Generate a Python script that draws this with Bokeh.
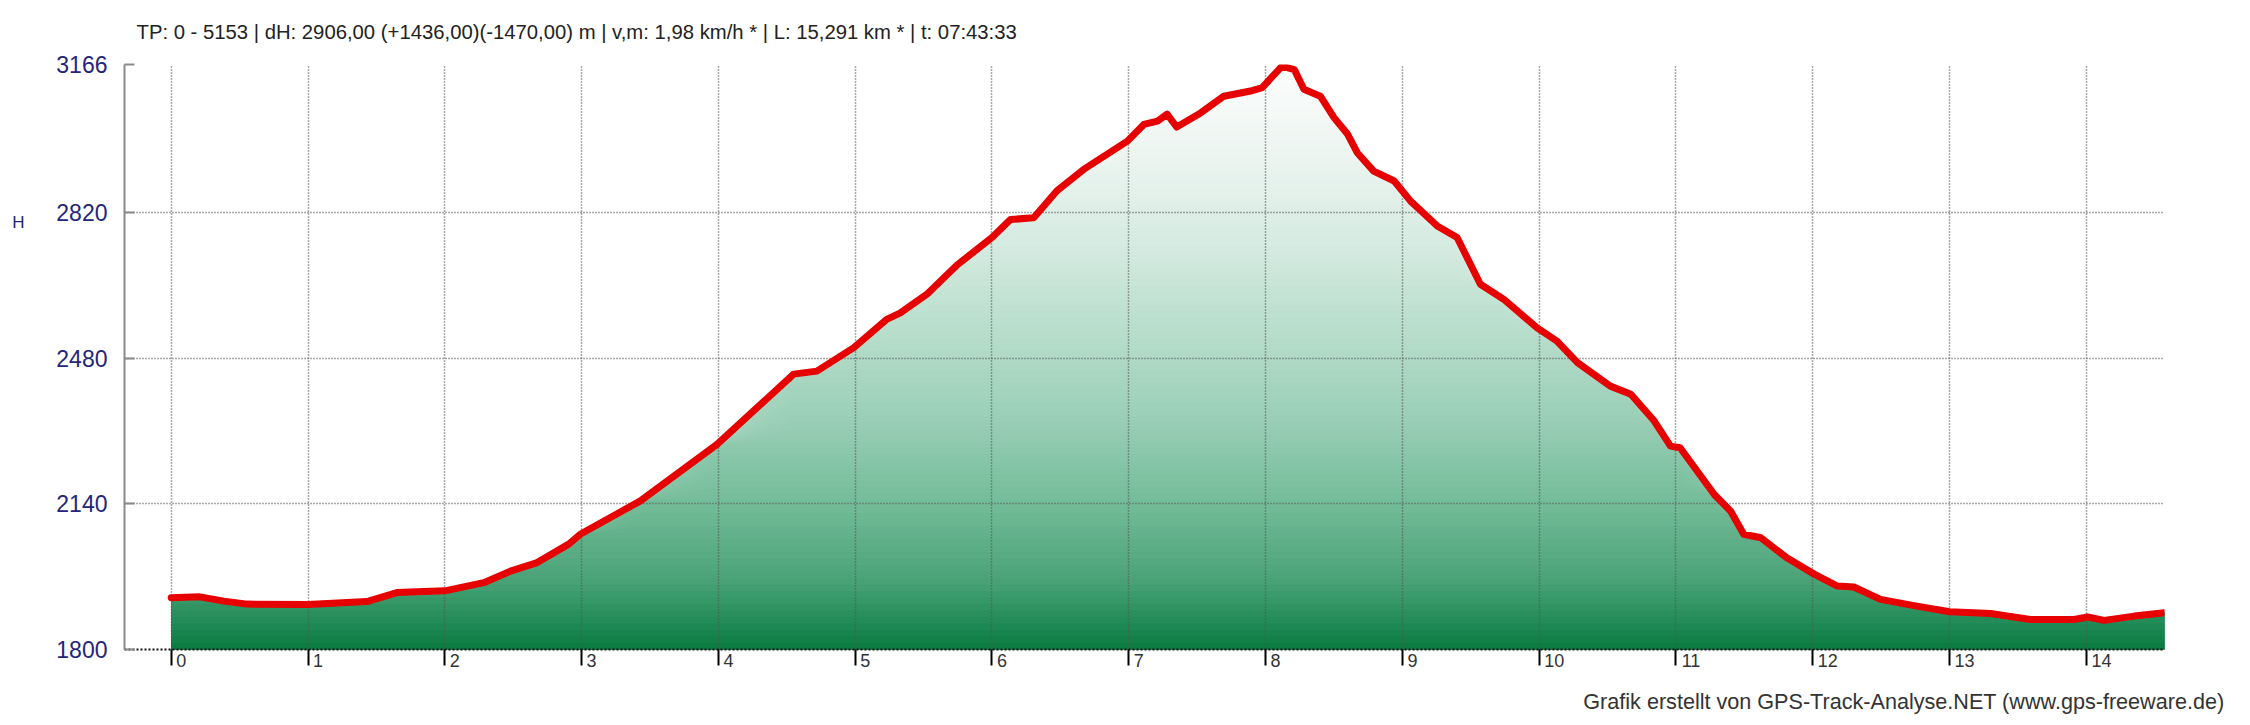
import numpy as np
from bokeh.plotting import figure
from bokeh.models import Range1d, FixedTicker, Title, LinearAxis
from bokeh.embed import file_html
from bokeh.resources import INLINE

# ---- data ----
km = [0.00, 0.21, 0.385, 0.555, 1.00, 1.43, 1.65, 2.00, 2.285, 2.48, 2.675, 2.906,
      2.99, 3.43, 3.99, 4.55, 4.72, 4.99, 5.23, 5.33, 5.53, 5.745, 6.00, 6.135,
      6.305, 6.475, 6.67, 6.99, 7.11, 7.21, 7.28, 7.35, 7.525, 7.695, 7.89, 7.975,
      8.12, 8.21, 8.28, 8.40, 8.50, 8.60, 8.67, 8.79, 8.94, 9.06, 9.255, 9.40,
      9.57, 9.74, 9.985, 10.13, 10.28, 10.52, 10.67, 10.84, 10.96, 11.03, 11.28,
      11.40, 11.495, 11.62, 11.81, 12.01, 12.18, 12.30, 12.495, 12.75, 13.00,
      13.30, 13.59, 13.91, 14.01, 14.13, 14.35, 14.57]
elev = [1921, 1923, 1913, 1906, 1905, 1912, 1933, 1937, 1956, 1983, 2003, 2046,
        2069, 2147, 2279, 2443, 2450, 2505, 2571, 2586, 2631, 2698, 2762, 2804,
        2808, 2871, 2921, 2987, 3026, 3034, 3050, 3020, 3053, 3092, 3104, 3112,
        3162, 3154, 3108, 3092, 3042, 3003, 2960, 2917, 2894, 2847, 2789, 2762,
        2653, 2618, 2551, 2520, 2470, 2415, 2396, 2334, 2275, 2271, 2162,
        2123, 2069, 2061, 2014, 1976, 1948, 1946, 1917, 1902, 1888,
        1884, 1870, 1870, 1876, 1868, 1878, 1886]
y_ticks = [1800, 2140, 2480, 2820, 3166]
x_ticks = list(range(15))
title_text = "TP: 0 - 5153 | dH: 2906,00  (+1436,00)(-1470,00) m | v,m: 1,98 km/h * | L: 15,291 km * | t: 07:43:33"
credit_text = "Grafik erstellt von GPS-Track-Analyse.NET (www.gps-freeware.de)"
y_title = "H"
y_title_at = 2796

FONT = "Liberation Sans"
NAVY = "#25257a"

p = figure(frame_width=2040, frame_height=585, output_backend="svg", toolbar_location=None,
           x_range=Range1d(-0.3414, 14.571), y_range=Range1d(y_ticks[0], y_ticks[-1]),
           min_border_left=124, min_border_right=70, min_border_top=64, min_border_bottom=60)
p.outline_line_color = None
p.background_fill_color = "white"
p.border_fill_color = "white"

# ---- gradient fill under the profile (stacked areas, top colour first) ----
stops_t = [0.0, 0.05, 0.12, 0.25, 0.40, 0.55, 0.70, 0.85, 1.0]
stops_c = [(10, 122, 64), (35, 140, 88), (75, 163, 120), (115, 188, 153),
           (155, 207, 183), (185, 222, 205), (215, 235, 226), (237, 245, 241),
           (252, 253, 252)]
ys = np.array(elev, dtype=float)
y0, y1 = y_ticks[0], y_ticks[-1]
nb = 90
edges = np.linspace(y0, y1, nb + 1)
for i in range(nb - 1, -1, -1):
    t = (edges[i] + edges[i + 1]) / 2.0
    t = (t - y0) / (y1 - y0)
    rgb = [int(round(np.interp(t, stops_t, [c[k] for c in stops_c]))) for k in range(3)]
    col = "#%02x%02x%02x" % tuple(rgb)
    r = p.varea(x=km, y1=np.full(len(km), float(y0)), y2=np.minimum(ys, edges[i + 1]),
                fill_color=col, fill_alpha=1.0)
    r.level = "image"

# ---- profile line ----
p.line(km, elev, line_color="#e60000", line_width=7, line_join="round", line_cap="round")

# ---- grid ----
p.grid.grid_line_color = "#555555"
p.grid.grid_line_dash = "1 2"
p.grid.grid_line_width = 1.5
p.xgrid.ticker = FixedTicker(ticks=x_ticks)
p.ygrid.ticker = FixedTicker(ticks=y_ticks)

# ---- y axis ----
ya = p.yaxis[0]
ya.ticker = FixedTicker(ticks=y_ticks)
ya.axis_line_color = "#8a8a8a"
ya.axis_line_width = 2
ya.major_tick_in = 10
ya.major_tick_out = 0
ya.major_tick_line_color = "#8a8a8a"
ya.major_tick_line_width = 2
ya.minor_tick_line_color = None
ya.major_label_text_color = NAVY
ya.major_label_text_font = FONT
ya.major_label_text_font_size = "23px"
ya.major_label_standoff = 17

# second left axis carrying only the "H" caption
ha = LinearAxis(ticker=FixedTicker(ticks=[y_title_at]),
                major_label_overrides={y_title_at: y_title},
                axis_line_color=None, major_tick_line_color=None, minor_tick_line_color=None,
                major_label_text_color=NAVY, major_label_text_font=FONT,
                major_label_text_font_size="17px", major_label_standoff=23)
p.add_layout(ha, "left")

# ---- x axis ----
xa = p.xaxis[0]
xa.ticker = FixedTicker(ticks=x_ticks)
xa.major_label_overrides = {k: "\u2007" * (len(str(k)) + 1) + str(k) for k in x_ticks}
xa.axis_line_color = "#111111"
xa.axis_line_width = 2
xa.axis_line_dash = "2 2"
xa.major_tick_in = 0
xa.major_tick_out = 16
xa.major_tick_line_color = "#000000"
xa.major_tick_line_width = 2
xa.minor_tick_line_color = None
xa.major_label_text_color = "#333333"
xa.major_label_text_font = FONT
xa.major_label_text_font_size = "18px"
xa.major_label_standoff = -15

# ---- texts ----
p.title.text = title_text
p.title.align = "left"
p.title.vertical_align = "top"
p.title.offset = 12
p.title.standoff = 39
p.title.text_font = FONT
p.title.text_font_size = "20.3px"
p.title.text_font_style = "normal"
p.title.text_color = "#222222"

credit = Title(text=credit_text, align="right", offset=-60, standoff=27,
               text_font=FONT, text_font_size="21.6px", text_font_style="normal",
               text_color="#333333")
p.add_layout(credit, "below")

open("out.html", "w").write(file_html(p, INLINE))
